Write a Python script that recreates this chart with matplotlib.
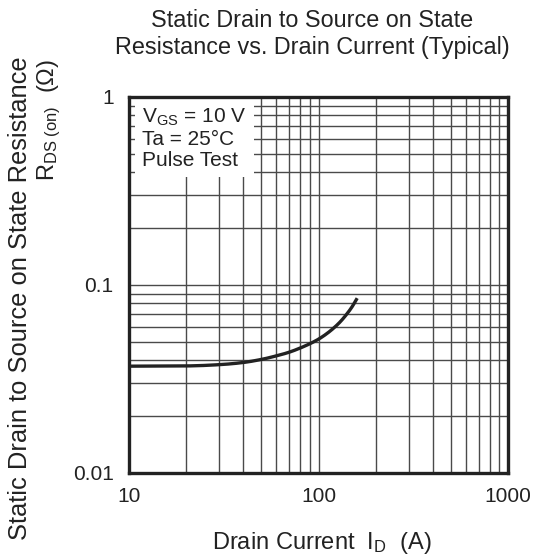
import matplotlib
matplotlib.use("Agg")
import matplotlib.pyplot as plt
from matplotlib.ticker import NullFormatter, FixedLocator, FixedFormatter
import numpy as np

plt.rcParams['font.family'] = ['Liberation Sans', 'DejaVu Sans']
plt.rcParams['mathtext.fontset'] = 'custom'
plt.rcParams['mathtext.rm'] = 'Liberation Sans'
plt.rcParams['mathtext.it'] = 'Liberation Sans'

# Data
drain_current = [10, 20, 30, 40, 50, 60, 70, 80, 90, 100, 110, 120, 130, 140, 150, 160]
rds_on = [0.0370, 0.0371, 0.0377, 0.0387, 0.0402, 0.0420, 0.0439, 0.0462, 0.0487, 0.0515,
          0.0549, 0.0589, 0.0636, 0.0694, 0.0763, 0.0851]

x_ticks = [10, 100, 1000]
x_tick_labels = ["10", "100", "1000"]
y_ticks = [0.01, 0.1, 1]
y_tick_labels = ["0.01", "0.1", "1"]


def catmull_rom(px, py, n=30):
    px = np.asarray(px, float)
    py = np.asarray(py, float)
    P = np.column_stack([px, py])
    P = np.vstack([2 * P[0] - P[1], P, 2 * P[-1] - P[-2]])
    out = []
    t = np.linspace(0, 1, n, endpoint=False)[:, None]
    for i in range(1, len(P) - 2):
        p0, p1, p2, p3 = P[i - 1], P[i], P[i + 1], P[i + 2]
        seg = 0.5 * ((2 * p1) + (-p0 + p2) * t + (2 * p0 - 5 * p1 + 4 * p2 - p3) * t ** 2
                     + (-p0 + 3 * p1 - 3 * p2 + p3) * t ** 3)
        out.append(seg)
    out.append(P[-2][None, :])
    out = np.vstack(out)
    return out[:, 0], out[:, 1]


fig = plt.figure(figsize=(5.33, 5.58), dpi=100)
ax = fig.add_axes([129/533, 1 - 473/558, 379/533, 376/558])
ax.set_xscale('log')
ax.set_yscale('log')
ax.set_xlim(10, 1000)
ax.set_ylim(0.01, 1)

# grid
minor_x = [m * d for d in (10, 100) for m in range(2, 10)] + [100]
minor_y = [m * d for d in (0.01, 0.1) for m in range(2, 10)] + [0.1]
for v in minor_x:
    ax.axvline(v, color='#4a4a4a', lw=1.0, zorder=1)
for v in minor_y:
    ax.axhline(v, color='#4a4a4a', lw=1.0, zorder=1)

# smooth curve through points in log space
sx, sy = catmull_rom(np.log10(drain_current), np.log10(rds_on))
ax.plot(10**sx, 10**sy, color='#222222', lw=2.4, zorder=3, solid_capstyle='butt')

ax.xaxis.set_major_locator(FixedLocator(x_ticks))
ax.xaxis.set_major_formatter(FixedFormatter(x_tick_labels))
ax.yaxis.set_major_locator(FixedLocator(y_ticks))
ax.yaxis.set_major_formatter(FixedFormatter(y_tick_labels))
ax.xaxis.set_minor_formatter(NullFormatter())
ax.yaxis.set_minor_formatter(NullFormatter())
ax.tick_params(which='both', length=0, labelsize=15, colors='#222222')
ax.tick_params(axis='x', pad=10)
ax.tick_params(axis='y', pad=11)

for s in ax.spines.values():
    s.set_linewidth(2.4)
    s.set_color('#222222')
    s.set_zorder(5)

# annotation box
ax.text(0.035, 0.975,
        "V$_{\\mathrm{GS}}$ = 10 V\nTa = 25\u00b0C\nPulse Test",
        transform=ax.transAxes, ha='left', va='top', fontsize=15,
        color='#222222', linespacing=1.15, zorder=4,
        bbox=dict(facecolor='white', edgecolor='none', pad=5))

fig.text(312/533, 1 - 34/558, "Static Drain to Source on State\nResistance vs. Drain Current (Typical)",
         ha='center', va='center', fontsize=16.8, color='#222222', linespacing=1.2)

fig.text(322/533, 1 - 543/558, "Drain Current  I$_{\\mathrm{D}}$  (A)",
         ha='center', va='center', fontsize=17, color='#222222')

fig.text(20/533, 1 - 298/558, "Static Drain to Source on State Resistance",
         ha='center', va='center', rotation=90, fontsize=18.4, color='#222222')
fig.text(49/533, 1 - 120/558, "R$_{\\mathrm{DS\\ (on)}}$  (\u03a9)",
         ha='center', va='center', rotation=90, fontsize=17, color='#222222')

fig.savefig("out.png", dpi=100)
